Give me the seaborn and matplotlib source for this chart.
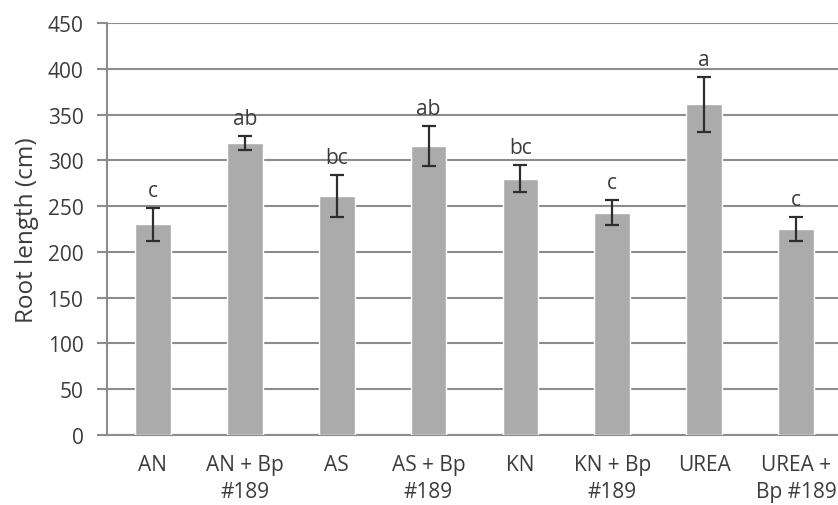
import numpy as np
import pandas as pd
import matplotlib
matplotlib.use("Agg")
import matplotlib.pyplot as plt
import seaborn as sns

# --- Datos ---
treatments = ["AN", "AN + Bp\n#189", "AS", "AS + Bp\n#189", "KN", "KN + Bp\n#189",
              "UREA", "UREA +\nBp #189"]
root_length = [230, 319, 261, 316, 280, 243, 361, 225]
errors = [18, 8, 23, 22, 15, 14, 30, 13]
letters = ["c", "ab", "bc", "ab", "bc", "c", "a", "c"]

df = pd.DataFrame({"treatment": treatments, "root_length": root_length})

sns.set_style("white")
plt.rcParams["font.family"] = ["Open Sans", "DejaVu Sans"]
text_color = "#3c3c3c"
grid_color = "#8c8c8c"

fig = plt.figure(figsize=(8.38, 5.06), dpi=100)
fig.patch.set_facecolor("white")
ax = fig.add_axes([107 / 838, 70 / 506, 735 / 838, 412 / 506])

sns.barplot(data=df, x="treatment", y="root_length", color="#ababab",
            saturation=1, width=0.39, errorbar=None, ax=ax, zorder=3)

x = np.arange(len(treatments))
ax.errorbar(x, root_length, yerr=errors, fmt="none", ecolor="#2e2e2e",
            elinewidth=1.6, capsize=5, capthick=1.6, zorder=4)

for xi, yi, err, lab in zip(x, root_length, errors, letters):
    ax.annotate(lab, (xi, yi + err), xytext=(0, 5), textcoords="offset points",
                ha="center", va="bottom", fontsize=15, color=text_color)

ax.set_ylim(0, 450)
ax.set_xlim(-0.5, len(treatments) - 0.5)
ax.set_yticks(np.arange(0, 451, 50))
ax.yaxis.grid(True, color=grid_color, linewidth=1.5, zorder=0)
ax.set_axisbelow(True)

# ticks en los límites de categoría (estilo Excel)
ax.set_xticks(np.arange(-0.5, len(treatments) + 0.5, 1), minor=True)
ax.tick_params(axis="x", which="major", length=0, pad=14, labelsize=15, labelcolor=text_color)
ax.tick_params(axis="x", which="minor", length=6, width=1.5, color=grid_color, direction="out")
ax.tick_params(axis="y", which="major", length=7, width=1.5, color=grid_color, direction="out",
               pad=10, labelsize=15, labelcolor=text_color, left=True)
for lab in ax.get_xticklabels():
    lab.set_linespacing(1.35)

ax.set_xlabel("")
ax.set_ylabel("Root length (cm)", fontsize=17.5, color=text_color, labelpad=6)

for side in ["top", "right"]:
    ax.spines[side].set_visible(False)
for side in ["left", "bottom"]:
    ax.spines[side].set_color(grid_color)
    ax.spines[side].set_linewidth(1.5)

fig.savefig("out.png", dpi=100)
